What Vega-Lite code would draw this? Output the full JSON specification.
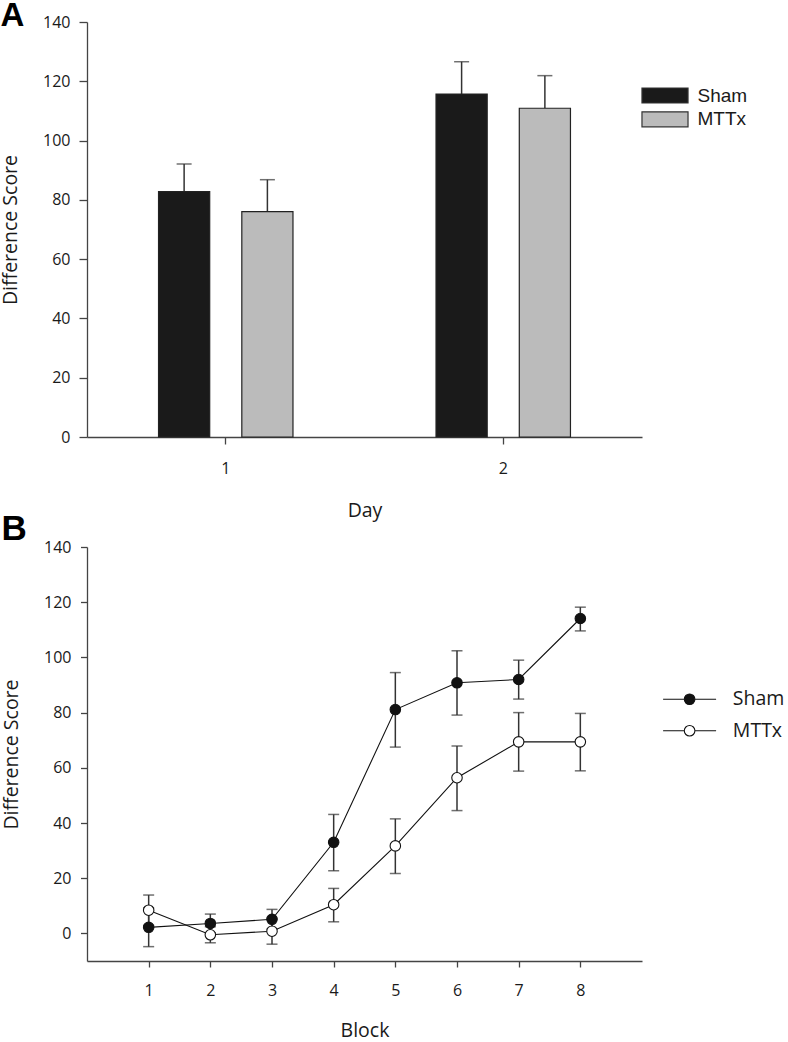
{
  "$schema": "https://vega.github.io/schema/vega-lite/v6.json",
  "background": "white",
  "padding": {"left": 0, "top": 0, "right": 0, "bottom": 0},
  "spacing": -8,
  "config": {
    "view": {"stroke": null},
    "axis": {
      "grid": false,
      "domainColor": "#444444",
      "tickColor": "#444444",
      "domainWidth": 1.3,
      "tickWidth": 1.3,
      "labelFont": "Open Sans",
      "labelFontSize": 16,
      "labelColor": "#1a1a1a",
      "titleFont": "Open Sans",
      "titleFontSize": 19.5,
      "titleFontWeight": "normal",
      "titleColor": "#1a1a1a"
    },
    "title": {"font": "Liberation Sans", "fontWeight": "bold", "color": "#000000", "anchor": "start", "frame": "bounds"}
  },
  "resolve": {
    "scale": {"x": "independent", "y": "independent", "fill": "independent"},
    "legend": {"fill": "independent"}
  },
  "vconcat": [
    {
      "width": 555,
      "height": 415,
      "title": {"text": "A", "fontSize": 33, "offset": -19},
      "data": {
        "values": [
          {"Day": "1", "Group": "Sham", "Mean": 82.8, "Upper": 92.1},
          {"Day": "1", "Group": "MTTx", "Mean": 76.0, "Upper": 86.8},
          {"Day": "2", "Group": "Sham", "Mean": 115.7, "Upper": 126.6},
          {"Day": "2", "Group": "MTTx", "Mean": 110.9, "Upper": 121.9}
        ]
      },
      "encoding": {
        "x": {
          "field": "Day",
          "type": "nominal",
          "scale": {"paddingInner": 0.5155, "paddingOuter": 0.2578},
          "axis": {"title": "Day", "labelAngle": 0, "tickSize": 7, "labelPadding": 16, "titlePadding": 25}
        },
        "xOffset": {
          "field": "Group",
          "type": "nominal",
          "sort": ["Sham", "MTTx"],
          "scale": {"paddingInner": 0.3855, "paddingOuter": 0}
        }
      },
      "layer": [
        {
          "mark": {"type": "rule", "color": "#333333", "strokeWidth": 1.5},
          "encoding": {
            "y": {
              "field": "Mean",
              "type": "quantitative",
              "scale": {"domain": [0, 140], "nice": false},
              "axis": {
                "title": "Difference Score",
                "values": [0, 20, 40, 60, 80, 100, 120, 140],
                "tickSize": 8,
                "labelPadding": 9,
                "titlePadding": 22
              }
            },
            "y2": {"field": "Upper"}
          }
        },
        {
          "mark": {"type": "tick", "orient": "horizontal", "color": "#333333", "thickness": 1.5, "size": 15},
          "encoding": {"y": {"field": "Upper", "type": "quantitative"}}
        },
        {
          "mark": {"type": "bar", "stroke": "#222222", "strokeWidth": 1.2},
          "encoding": {
            "y": {"field": "Mean", "type": "quantitative"},
            "fill": {
              "field": "Group",
              "type": "nominal",
              "sort": ["Sham", "MTTx"],
              "scale": {"range": ["#1a1a1a", "#bbbbbb"]},
              "legend": {
                "title": null,
                "orient": "none",
                "legendX": 568.5,
                "legendY": 64,
                "padding": 0,
                "symbolType": "M-3.07,-1H3.07V1H-3.07Z",
                "symbolSize": 225,
                "symbolStrokeColor": "#333333",
                "symbolStrokeWidth": 1.2,
                "labelFont": "Liberation Sans",
                "labelFontSize": 19,
                "labelColor": "#1a1a1a",
                "labelOffset": 23,
                "rowPadding": 2.8
              }
            }
          }
        }
      ]
    },
    {
      "width": 555,
      "height": 414,
      "title": {"text": "B", "fontSize": 35, "offset": -8},
      "data": {
        "values": [
          {"Block": 1, "Group": "Sham", "Mean": 2.2, "Lower": -4.8, "Upper": 9.2},
          {"Block": 2, "Group": "Sham", "Mean": 3.6, "Lower": 0.2, "Upper": 7.0},
          {"Block": 3, "Group": "Sham", "Mean": 5.1, "Lower": 1.5, "Upper": 8.7},
          {"Block": 4, "Group": "Sham", "Mean": 33.0, "Lower": 22.7, "Upper": 43.1},
          {"Block": 5, "Group": "Sham", "Mean": 81.1, "Lower": 67.5, "Upper": 94.5},
          {"Block": 6, "Group": "Sham", "Mean": 90.8, "Lower": 79.1, "Upper": 102.4},
          {"Block": 7, "Group": "Sham", "Mean": 92.0, "Lower": 84.9, "Upper": 99.0},
          {"Block": 8, "Group": "Sham", "Mean": 114.1, "Lower": 109.6, "Upper": 118.2},
          {"Block": 1, "Group": "MTTx", "Mean": 8.4, "Lower": 2.9, "Upper": 13.9},
          {"Block": 2, "Group": "MTTx", "Mean": -0.5, "Lower": -3.4, "Upper": 2.4},
          {"Block": 3, "Group": "MTTx", "Mean": 0.8, "Lower": -3.9, "Upper": 5.5},
          {"Block": 4, "Group": "MTTx", "Mean": 10.4, "Lower": 4.2, "Upper": 16.3},
          {"Block": 5, "Group": "MTTx", "Mean": 31.7, "Lower": 21.7, "Upper": 41.5},
          {"Block": 6, "Group": "MTTx", "Mean": 56.4, "Lower": 44.5, "Upper": 67.9},
          {"Block": 7, "Group": "MTTx", "Mean": 69.4, "Lower": 58.8, "Upper": 80.0},
          {"Block": 8, "Group": "MTTx", "Mean": 69.4, "Lower": 58.9, "Upper": 79.7}
        ]
      },
      "encoding": {
        "x": {
          "field": "Block",
          "type": "quantitative",
          "scale": {"domain": [0, 9], "nice": false},
          "axis": {"title": "Block", "values": [1, 2, 3, 4, 5, 6, 7, 8], "format": "d", "tickSize": 6, "labelPadding": 15, "titlePadding": 23}
        }
      },
      "layer": [
        {
          "mark": {"type": "line", "color": "#111111", "strokeWidth": 1.1},
          "encoding": {
            "y": {
              "field": "Mean",
              "type": "quantitative",
              "scale": {"domain": [-10, 140], "nice": false},
              "axis": {
                "title": "Difference Score",
                "values": [0, 20, 40, 60, 80, 100, 120, 140],
                "tickSize": 6.5,
                "labelPadding": 9.5,
                "titlePadding": 22
              }
            },
            "detail": {"field": "Group", "type": "nominal"}
          }
        },
        {
          "mark": {"type": "rule", "color": "#333333", "strokeWidth": 1.5},
          "encoding": {
            "y": {"field": "Lower", "type": "quantitative"},
            "y2": {"field": "Upper"}
          }
        },
        {
          "mark": {"type": "tick", "orient": "horizontal", "color": "#333333", "thickness": 1.5, "size": 11},
          "encoding": {"y": {"field": "Lower", "type": "quantitative"}}
        },
        {
          "mark": {"type": "tick", "orient": "horizontal", "color": "#333333", "thickness": 1.5, "size": 11},
          "encoding": {"y": {"field": "Upper", "type": "quantitative"}}
        },
        {
          "mark": {"type": "point", "shape": "circle", "size": 110, "stroke": "#111111", "strokeWidth": 1.1, "opacity": 1},
          "encoding": {
            "y": {"field": "Mean", "type": "quantitative"},
            "fill": {
              "field": "Group",
              "type": "nominal",
              "sort": ["Sham", "MTTx"],
              "scale": {"range": ["#111111", "#ffffff"]},
              "legend": {
                "title": null,
                "orient": "none",
                "legendX": 592.85,
                "legendY": 142.5,
                "padding": 0,
                "symbolType": "M-3.533,0H-0.707M0.707,0H3.533M-0.707,0A0.707,0.707 0 1,0 0.707,0A0.707,0.707 0 1,0 -0.707,0Z",
                "symbolSize": 225,
                "symbolStrokeColor": "#111111",
                "symbolStrokeWidth": 1.1,
                "symbolOpacity": 1,
                "labelFont": "Open Sans",
                "labelFontSize": 19.5,
                "labelColor": "#1a1a1a",
                "labelOffset": 33.5,
                "rowPadding": 10.5
              }
            }
          }
        }
      ]
    }
  ]
}
